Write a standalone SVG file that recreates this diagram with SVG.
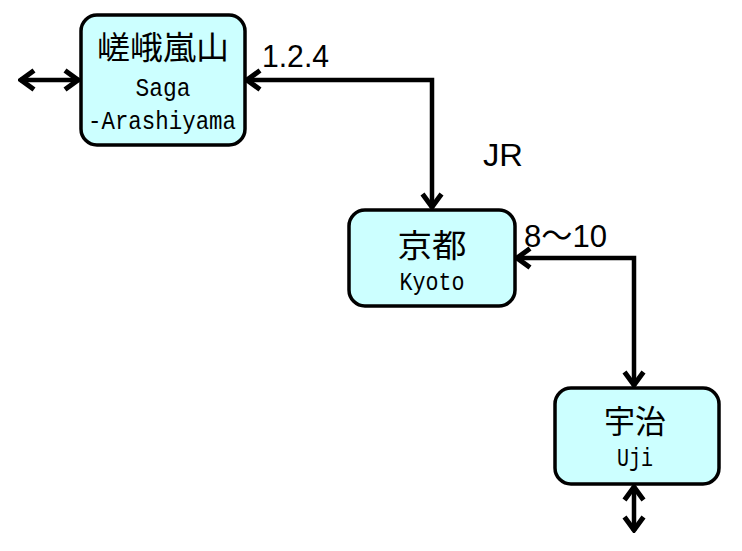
<svg xmlns="http://www.w3.org/2000/svg" width="742" height="551" viewBox="0 0 742 551">
<style>
.box{fill:#ccffff;stroke:#000;stroke-width:3.5}
.jp{font-family:"Noto Sans CJK JP","Noto Sans",sans-serif;font-size:32px;fill:#000;text-anchor:middle}
.en{font-family:"Liberation Mono","DejaVu Sans Mono",monospace;font-size:25px;fill:#000;text-anchor:middle}
.lbl{font-family:"Liberation Sans","Noto Sans CJK JP",sans-serif;font-size:32px;fill:#000}
.ln{fill:none;stroke:#000;stroke-width:4.5;marker-start:url(#ah);marker-end:url(#ah)}
</style>
<defs>
<marker id="ah" markerUnits="userSpaceOnUse" viewBox="-17 -12 19 24" markerWidth="19" markerHeight="24" refX="0" refY="0" orient="auto-start-reverse">
<path d="M-14,-9.5 L-1,0 L-14,9.5" fill="none" stroke="#000" stroke-width="5"/>
</marker>
</defs>
<rect width="742" height="551" fill="#fff"/>
<g id="connectors">
<path class="ln" d="M20,80 L79,80"/>
<path class="ln" d="M246,80 L432,80 L432,208"/>
<path class="ln" d="M516,258 L634,258 L634,386"/>
<path class="ln" d="M634,486 L634,531"/>
<text class="lbl" x="262" y="67" textLength="67" lengthAdjust="spacingAndGlyphs">1.2.4</text>
<text class="lbl" x="483" y="166" textLength="40" lengthAdjust="spacingAndGlyphs">JR</text>
<text class="lbl" x="524" y="247" textLength="83" lengthAdjust="spacingAndGlyphs">8〜10</text>
</g>
<g id="saga">
<rect class="box" x="81" y="15" width="164" height="130" rx="16"/>
<text class="jp" x="163" y="59" textLength="132" lengthAdjust="spacingAndGlyphs">嵯峨嵐山</text>
<text class="en" x="163" y="96" textLength="55" lengthAdjust="spacingAndGlyphs">Saga</text>
<text class="en" x="162" y="129" textLength="148" lengthAdjust="spacingAndGlyphs">-Arashiyama</text>
</g>
<g id="kyoto">
<rect class="box" x="349" y="210" width="166" height="96" rx="16"/>
<text class="jp" x="432" y="257" textLength="69" lengthAdjust="spacingAndGlyphs">京都</text>
<text class="en" x="432" y="290" textLength="65" lengthAdjust="spacingAndGlyphs">Kyoto</text>
</g>
<g id="uji">
<rect class="box" x="555" y="388" width="164" height="96" rx="16"/>
<text class="jp" x="635" y="433" textLength="62" lengthAdjust="spacingAndGlyphs">宇治</text>
<text class="en" x="635" y="466" textLength="36" lengthAdjust="spacingAndGlyphs">Uji</text>
</g>
</svg>
